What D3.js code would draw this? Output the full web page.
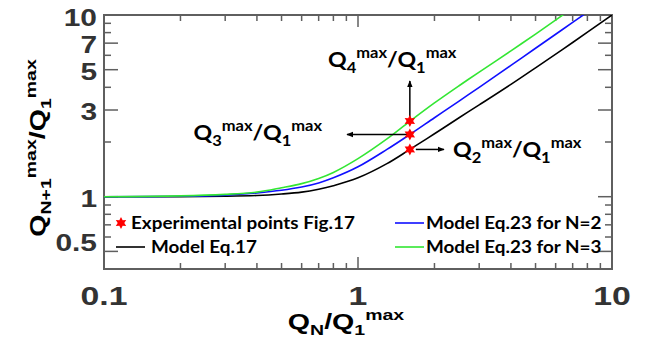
<!DOCTYPE html>
<html>
<head>
<meta charset="utf-8">
<script src="https://cdn.jsdelivr.net/npm/d3@7"></script>
<style>
body { margin: 0; background: #fff; }
text { font-family: "Liberation Sans", Arial, sans-serif; font-weight: bold; }
.cal { font-family: Lato, "Open Sans", sans-serif; }
</style>
</head>
<body>
<svg id="chart" width="647" height="339"></svg>
<script>
// values
var qn     = [0.1, 0.2, 0.3, 0.4, 0.5, 0.6, 0.7, 0.8, 1, 1.3, 1.6, 2, 2.5, 3, 4, 5, 7, 10];
var eq17   = [1.0, 1.0, 1.005, 1.015, 1.035, 1.06, 1.1, 1.15, 1.27, 1.52, 1.82, 2.22, 2.72, 3.2, 4.15, 5.12, 7.06, 10.0];
var eq23n2 = [1.0, 1.005, 1.02, 1.05, 1.085, 1.13, 1.19, 1.27, 1.46, 1.82, 2.2, 2.72, 3.36, 4.0, 5.28, 6.56, 9.1, 12.9];
var eq23n3 = [1.0, 1.01, 1.03, 1.06, 1.12, 1.18, 1.26, 1.36, 1.62, 2.08, 2.6, 3.28, 4.08, 4.85, 6.35, 7.85, 10.9, 15.4];
var expX = [1.6, 1.6, 1.6];
var expY = [1.82, 2.2, 2.61];

var xTickMajor = [0.1, 1, 10];
var xTickMinor = [0.2, 0.3, 0.4, 0.5, 0.6, 0.7, 0.8, 0.9, 2, 3, 4, 5, 6, 7, 8, 9];
var yTickLabels = [0.5, 1, 3, 5, 7, 10];
var yTickMinor = [0.6, 0.7, 0.8, 0.9, 2, 4, 6, 8, 9];

var svg = d3.select("#chart");
var pLeft = 104, pRight = 612, pTop = 15, pBottom = 269;
var SX = 1.3; // wide glyphs as in the picture

var x = d3.scaleLog().domain([0.1, 10]).range([pLeft, pRight]);
var y = d3.scaleLog().domain([0.4, 10]).range([pBottom, pTop]);

var frameCol = "#5f5f5f";

var defs = svg.append("defs");
defs.append("clipPath").attr("id", "clip")
  .append("rect").attr("x", pLeft).attr("y", pTop)
  .attr("width", pRight - pLeft).attr("height", pBottom - pTop);

var mk = defs.append("marker")
  .attr("id", "arr").attr("viewBox", "0 0 10 10")
  .attr("refX", 9).attr("refY", 5)
  .attr("markerWidth", 7).attr("markerHeight", 7)
  .attr("markerUnits", "userSpaceOnUse")
  .attr("orient", "auto");
mk.append("path").attr("d", "M0,1 L10,5 L0,9 z").attr("fill", "#000");

// ticks, inward on all four sides
function vtick(v, len) {
  svg.append("line").attr("x1", x(v)).attr("x2", x(v)).attr("y1", pBottom).attr("y2", pBottom - len)
    .attr("stroke", frameCol).attr("stroke-width", 1.5);
  svg.append("line").attr("x1", x(v)).attr("x2", x(v)).attr("y1", pTop).attr("y2", pTop + len)
    .attr("stroke", frameCol).attr("stroke-width", 1.5);
}
function htick(v, len) {
  svg.append("line").attr("x1", pLeft).attr("x2", pLeft + len).attr("y1", y(v)).attr("y2", y(v))
    .attr("stroke", frameCol).attr("stroke-width", 1.5);
  svg.append("line").attr("x1", pRight).attr("x2", pRight - len).attr("y1", y(v)).attr("y2", y(v))
    .attr("stroke", frameCol).attr("stroke-width", 1.5);
}
xTickMajor.forEach(function(v) { vtick(v, 12); });
xTickMinor.forEach(function(v) { vtick(v, 6); });
yTickLabels.forEach(function(v) { htick(v, 14); });
yTickMinor.forEach(function(v) { htick(v, 7); });

svg.append("rect").attr("x", pLeft).attr("y", pTop)
  .attr("width", pRight - pLeft).attr("height", pBottom - pTop)
  .attr("fill", "none").attr("stroke", frameCol).attr("stroke-width", 2);

// tick labels
yTickLabels.forEach(function(v) {
  var cy = Math.min(Math.max(y(v) + 2, 18), 243);
  svg.append("text")
    .attr("transform", "translate(97," + (cy + 8) + ") scale(" + SX + ",1)")
    .attr("text-anchor", "end").attr("font-size", 23).attr("fill", "#333")
    .text(v);
});
xTickMajor.forEach(function(v) {
  svg.append("text")
    .attr("transform", "translate(" + x(v) + ",305) scale(" + SX + ",1)")
    .attr("text-anchor", "middle").attr("font-size", 26).attr("fill", "#333")
    .text(v);
});

// text with sub / superscripts
function rich(tx, parts, size, small) {
  var cur = 0;
  parts.forEach(function(p) {
    var off = p[1] === "sub" ? size * 0.28 : p[1] === "sup" ? -size * 0.42 : 0;
    tx.append("tspan").attr("dy", off - cur)
      .attr("font-size", p[1] ? small : size).text(p[0]);
    cur = off;
  });
  return tx;
}

rich(svg.append("text")
    .attr("transform", "translate(346,329) scale(" + SX + ",1)")
    .attr("text-anchor", "middle").attr("fill", "#000"),
  [["Q"], ["N", "sub"], ["/Q"], ["1", "sub"], ["max", "sup"]], 22, 15);

rich(svg.append("text")
    .attr("transform", "translate(45,148) rotate(-90) scale(" + SX + ",1)")
    .attr("text-anchor", "middle").attr("fill", "#000"),
  [["Q"], ["N+1", "sub"], ["max", "sup"], ["/Q"], ["1", "sub"], ["max", "sup"]], 22, 15);

// curves
var line = d3.line().x(function(d) { return x(d[0]); }).y(function(d) { return y(d[1]); })
  .curve(d3.curveCatmullRom.alpha(0.5));
var curves = [
  {vals: eq17, col: "#000000"},
  {vals: eq23n2, col: "#1010ff"},
  {vals: eq23n3, col: "#33e633"}
];
curves.forEach(function(c) {
  svg.append("path").datum(d3.zip(qn, c.vals))
    .attr("clip-path", "url(#clip)")
    .attr("d", line).attr("fill", "none")
    .attr("stroke", c.col).attr("stroke-width", 1.6);
});

// six-pointed star
var hexStar = {
  draw: function(ctx, size) {
    var R = Math.sqrt(size), r = R * 0.55;
    for (var i = 0; i < 12; i++) {
      var a = Math.PI * i / 6 - Math.PI / 2, rr = i % 2 ? r : R;
      if (i === 0) ctx.moveTo(rr * Math.cos(a), rr * Math.sin(a));
      else ctx.lineTo(rr * Math.cos(a), rr * Math.sin(a));
    }
    ctx.closePath();
  }
};
var star = d3.symbol().type(hexStar).size(36);

// arrows from the experimental points
var ax = x(expX[0]);
svg.append("line").attr("x1", ax).attr("y1", y(expY[2])).attr("x2", ax).attr("y2", 81)
  .attr("stroke", "#000").attr("stroke-width", 1.5).attr("marker-end", "url(#arr)");
svg.append("line").attr("x1", ax).attr("y1", y(expY[1])).attr("x2", 347).attr("y2", y(expY[1]))
  .attr("stroke", "#000").attr("stroke-width", 1.5).attr("marker-end", "url(#arr)");
svg.append("line").attr("x1", ax + 6).attr("y1", y(expY[0])).attr("x2", 444).attr("y2", y(expY[0]))
  .attr("stroke", "#000").attr("stroke-width", 1.5).attr("marker-end", "url(#arr)");

svg.selectAll(".exp").data(d3.zip(expX, expY)).enter().append("path")
  .attr("class", "exp")
  .attr("transform", function(d) { return "translate(" + x(d[0]) + "," + y(d[1]) + ")"; })
  .attr("d", star).attr("fill", "#ff0000");

var LX = 1.1;
rich(svg.append("text").attr("class", "cal")
    .attr("transform", "translate(328,67) scale(" + LX + ",1)").attr("fill", "#000"),
  [["Q"], ["4", "sub"], ["max", "sup"], ["/Q"], ["1", "sub"], ["max", "sup"]], 21, 15);
rich(svg.append("text").attr("class", "cal")
    .attr("transform", "translate(322,140) scale(" + LX + ",1)")
    .attr("text-anchor", "end").attr("fill", "#000"),
  [["Q"], ["3", "sub"], ["max", "sup"], ["/Q"], ["1", "sub"], ["max", "sup"]], 21, 15);
rich(svg.append("text").attr("class", "cal")
    .attr("transform", "translate(453,157) scale(" + LX + ",1)").attr("fill", "#000"),
  [["Q"], ["2", "sub"], ["max", "sup"], ["/Q"], ["1", "sub"], ["max", "sup"]], 21, 15);

// legend
var legendNames = ["Experimental points Fig.17", "Model Eq.17", "Model Eq.23 for N=2", "Model Eq.23 for N=3"];
var legendCols = ["#ff0000", "#000000", "#1010ff", "#33e633"];
var legPos = [[116, 223], [116, 247], [395, 223], [395, 247]];
legendNames.forEach(function(name, i) {
  var p = legPos[i], tx;
  if (i === 0) {
    svg.append("path").attr("transform", "translate(" + (p[0] + 5) + "," + p[1] + ")")
      .attr("d", star).attr("fill", legendCols[i]);
    tx = p[0] + 15;
  } else {
    svg.append("line").attr("x1", p[0]).attr("x2", p[0] + 29).attr("y1", p[1]).attr("y2", p[1])
      .attr("stroke", legendCols[i]).attr("stroke-width", 1.6);
    tx = p[0] + (i === 1 ? 35 : 31);
  }
  svg.append("text").attr("class", "cal")
    .attr("transform", "translate(" + tx + "," + (p[1] + 6) + ") scale(1.11,1)")
    .attr("font-size", 17).attr("fill", "#000").text(name);
});
</script>
</body>
</html>
